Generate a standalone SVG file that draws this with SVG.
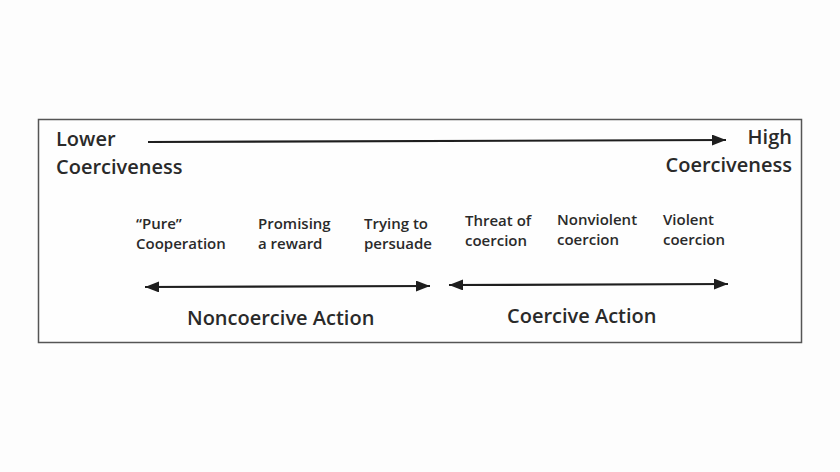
<svg xmlns="http://www.w3.org/2000/svg" width="840" height="472" viewBox="0 0 840 472">
<style>
.big{font-family:"Open Sans","Noto Sans","DejaVu Sans",sans-serif;font-size:20px;font-weight:600;fill:#2a2a2a}
.sm{font-family:"Open Sans","Noto Sans","DejaVu Sans",sans-serif;font-size:15px;font-weight:600;fill:#2a2a2a}
.ln{stroke:#1e1e1e;stroke-width:2.2;fill:none}
</style>
<defs>
<marker id="ah" viewBox="0 0 14 11" refX="14" refY="5.5" markerWidth="14" markerHeight="11" markerUnits="userSpaceOnUse" orient="auto-start-reverse">
<path d="M0,0 L14,5.5 L0,11 Z" fill="#1e1e1e"/>
</marker>
</defs>
<rect x="0" y="0" width="840" height="472" fill="#fdfdfd"/>
<rect x="38.5" y="119.5" width="763" height="223" fill="#fefefe" stroke="#555" stroke-width="1.5"/>
<g id="connectors">
<line class="ln" x1="148" y1="142" x2="726" y2="140" marker-end="url(#ah)"/>
<line class="ln" x1="145" y1="287" x2="430" y2="286" marker-start="url(#ah)" marker-end="url(#ah)"/>
<line class="ln" x1="449" y1="285" x2="728" y2="284" marker-start="url(#ah)" marker-end="url(#ah)"/>
</g>
<g id="lower"><text class="big" x="56" y="146">Lower</text><text class="big" x="56" y="174">Coerciveness</text></g>
<g id="high"><text class="big" x="792" y="144" text-anchor="end">High</text><text class="big" x="792" y="172" text-anchor="end">Coerciveness</text></g>
<g id="pure"><text class="sm" x="136" y="229">“Pure”</text><text class="sm" x="136" y="249">Cooperation</text></g>
<g id="promising"><text class="sm" x="258" y="229">Promising</text><text class="sm" x="258" y="249">a reward</text></g>
<g id="trying"><text class="sm" x="364" y="229">Trying to</text><text class="sm" x="364" y="249">persuade</text></g>
<g id="threat"><text class="sm" x="465" y="226">Threat of</text><text class="sm" x="465" y="246">coercion</text></g>
<g id="nonviolent"><text class="sm" x="557" y="225">Nonviolent</text><text class="sm" x="557" y="245">coercion</text></g>
<g id="violent"><text class="sm" x="663" y="225">Violent</text><text class="sm" x="663" y="245">coercion</text></g>
<g id="noncoercive"><text class="big" x="187" y="325">Noncoercive Action</text></g>
<g id="coercive"><text class="big" x="507" y="323">Coercive Action</text></g>
</svg>
